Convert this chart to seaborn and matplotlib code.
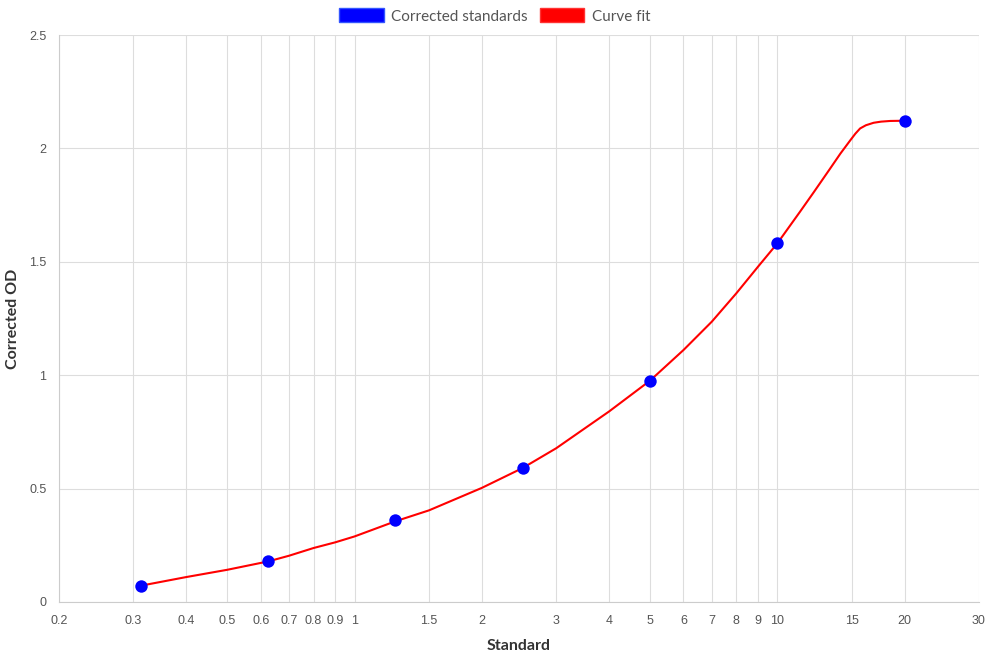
import numpy as np
import pandas as pd
import matplotlib
matplotlib.use("Agg")
import matplotlib.pyplot as plt
from matplotlib.patches import Patch
from matplotlib.ticker import FixedLocator, FixedFormatter, NullLocator
import seaborn as sns

# standards (concentration vs corrected OD)
std_conc = [0.3125, 0.625, 1.25, 2.5, 5, 10, 20]
std_od = [0.072, 0.179, 0.361, 0.593, 0.976, 1.581, 2.122]

# curve fit
fit_conc = [0.3125, 0.4, 0.5, 0.625, 0.7, 0.8, 0.9, 1, 1.25, 1.5, 2, 2.5, 3, 4, 5,
            6, 7, 8, 9, 10, 11.3, 12.2, 13.3, 14.1, 14.9, 15.3, 15.7, 16.2, 16.9,
            17.6, 18.5, 20]
fit_od = [0.072, 0.110, 0.142, 0.179, 0.204, 0.238, 0.263, 0.289, 0.356, 0.404, 0.503,
          0.591, 0.678, 0.840, 0.976, 1.111, 1.236, 1.361, 1.478, 1.581, 1.719, 1.807,
          1.908, 1.977, 2.037, 2.065, 2.088, 2.102, 2.113, 2.118, 2.121, 2.122]

x_ticks = [0.2, 0.3, 0.4, 0.5, 0.6, 0.7, 0.8, 0.9, 1, 1.5, 2, 3, 4, 5, 6, 7, 8, 9, 10, 15, 20, 30]
x_labels = ["0.2", "0.3", "0.4", "0.5", "0.6", "0.7", "0.8", "0.9", "1", "1.5", "2",
            "3", "4", "5", "6", "7", "8", "9", "10", "15", "20", "30"]
y_ticks = [0, 0.5, 1, 1.5, 2, 2.5]
y_labels = ["0", "0.5", "1", "1.5", "2", "2.5"]

std_df = pd.DataFrame({"Standard": std_conc, "OD": std_od})
fit_df = pd.DataFrame({"Standard": fit_conc, "OD": fit_od})

sns.set_style("white")
plt.rcParams["font.family"] = ["Liberation Sans", "DejaVu Sans"]

fig = plt.figure(figsize=(9.9, 6.6), dpi=100)
ax = fig.add_axes([59 / 990, 1 - 602 / 660, 920 / 990, 567 / 660])
ax.set_xscale("log")

sns.lineplot(data=fit_df, x="Standard", y="OD", color="#ff0000", linewidth=1.5,
             sort=False, ax=ax, zorder=3)
sns.scatterplot(data=std_df, x="Standard", y="OD", color="#0000ff", s=80,
                edgecolor="#0000ff", linewidth=0, ax=ax, zorder=4)

ax.set_xlim(0.2, 30)
ax.set_ylim(0, 2.5)
ax.xaxis.set_major_locator(FixedLocator(x_ticks))
ax.xaxis.set_major_formatter(FixedFormatter(x_labels))
ax.xaxis.set_minor_locator(NullLocator())
ax.set_yticks(y_ticks)
ax.set_yticklabels(y_labels)

ax.grid(True, color="#dddddd", linewidth=0.8)
for side in ["top", "right"]:
    ax.spines[side].set_visible(False)
for side in ["left", "bottom"]:
    ax.spines[side].set_color("#cccccc")
    ax.spines[side].set_linewidth(0.8)
ax.tick_params(axis="both", length=6, width=0.8, color="#dddddd",
               labelsize=9, labelcolor="#555555", pad=3)

ax.set_xlabel("Standard", fontsize=11.5, fontweight="bold", color="#333333",
              family=["Lato", "DejaVu Sans"], labelpad=9)
ax.set_ylabel("Corrected OD", fontsize=11.5, fontweight="bold", color="#333333",
              family=["Lato", "DejaVu Sans"], labelpad=7)

handles = [Patch(facecolor="#0000ff", edgecolor="#3355ff", label="Corrected standards"),
           Patch(facecolor="#ff0000", edgecolor="#ff3333", label="Curve fit")]
fig.legend(handles=handles, loc="center", bbox_to_anchor=(0.5, 1 - 16 / 660), ncol=2,
           frameon=False, handlelength=2.9, handleheight=1.0, handletextpad=0.5,
           columnspacing=0.8, prop={"family": ["Lato", "DejaVu Sans"], "size": 11},
           labelcolor="#555555")

fig.savefig("out.png", dpi=100)
